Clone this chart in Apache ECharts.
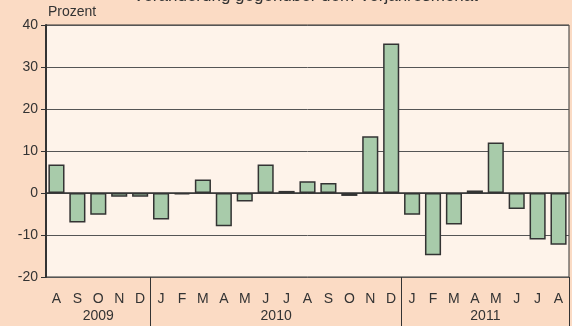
<!DOCTYPE html>
<html>
<head>
<meta charset="utf-8">
<script src="https://cdn.jsdelivr.net/npm/echarts@6/dist/echarts.min.js"></script>
<style>
  html, body { margin: 0; padding: 0; background: #FBDBC4; }
  #chart { width: 572px; height: 326px; }
</style>
</head>
<body>
<div id="chart"></div>
<script>
// Monthly change vs. same month of previous year, in percent
const months = ['A','S','O','N','D','J','F','M','A','M','J','J','A','S','O','N','D','J','F','M','A','M','J','J','A'];
const years = ['2009', '2010', '2011'];
// first month index of each year on the category axis
const yearStarts = [0, 5, 17];
const changes = [6.8, -7.0, -5.2, -0.9, -0.9, -6.3, -0.3, 3.2, -7.9, -2.0, 6.8, 0.5, 2.8, 2.4, -0.7, 13.5, 35.6, -5.2, -14.8, -7.5, 0.6, 12.0, -3.8, -11.1, -12.3];
const yTicks = { min: -20, max: 40, interval: 10 };

const ink = '#333333';
const font = 'Liberation Sans, Arial, sans-serif';

// Year label sits in the middle of its run of months
const yearLabelAt = {};
yearStarts.forEach((s, i) => {
  const end = i + 1 < yearStarts.length ? yearStarts[i + 1] : months.length;
  const span = end - s;
  const mid = s + Math.floor((span - 1) / 2);
  yearLabelAt[mid] = { text: years[i], even: span % 2 === 0 };
});

const chart = echarts.init(document.getElementById('chart'), null, { renderer: 'canvas' });
chart.setOption({
  backgroundColor: '#FBDBC4',
  animation: false,
  title: {
    text: 'Veränderung gegenüber dem Vorjahresmonat',
    left: 128,
    top: -17,
    textStyle: { fontFamily: font, fontSize: 17, fontWeight: 'normal', color: ink }
  },
  grid: {
    left: 46, right: 3, top: 25, bottom: 49,
    show: true, backgroundColor: '#FEF3EA', borderColor: ink, borderWidth: 1
  },
  xAxis: [
    {
      type: 'category',
      data: months,
      axisLine: { show: true, lineStyle: { color: ink, width: 1.5 } },
      axisTick: { show: false },
      axisLabel: { color: ink, fontFamily: font, fontSize: 14, margin: 15, interval: 0 }
    },
    {
      type: 'category',
      position: 'bottom',
      data: months.map((m, i) => i),
      axisLine: { show: false },
      axisTick: {
        show: true,
        length: 50,
        interval: (idx) => yearStarts.indexOf(idx) > 0,
        lineStyle: { color: ink, width: 1 }
      },
      axisLabel: {
        interval: 0,
        margin: 32,
        formatter: (v, idx) => {
          const y = yearLabelAt[idx];
          if (!y) return '';
          return y.even ? '{s|' + y.text + '}' : '{c|' + y.text + '}';
        },
        rich: {
          c: { color: ink, fontFamily: font, fontSize: 14 },
          s: { color: ink, fontFamily: font, fontSize: 14, padding: [0, 0, 0, 21] }
        }
      }
    }
  ],
  yAxis: {
    type: 'value',
    min: yTicks.min,
    max: yTicks.max,
    interval: yTicks.interval,
    name: 'Prozent',
    nameLocation: 'end',
    nameGap: 6,
    nameTextStyle: { color: ink, fontFamily: font, fontSize: 14, align: 'left', padding: [0, 0, 0, 2] },
    axisLine: { show: true, lineStyle: { color: ink, width: 2 } },
    axisTick: { show: true, length: 5, lineStyle: { color: ink } },
    axisLabel: { color: ink, fontFamily: font, fontSize: 14, margin: 8 },
    splitLine: { show: true, lineStyle: { color: '#555555', width: 1 } }
  },
  series: [{
    type: 'bar',
    xAxisIndex: 0,
    data: changes,
    barCategoryGap: '23%',
    itemStyle: { color: '#A8CBAA', borderColor: ink, borderWidth: 1.5 }
  }]
});
</script>
</body>
</html>
